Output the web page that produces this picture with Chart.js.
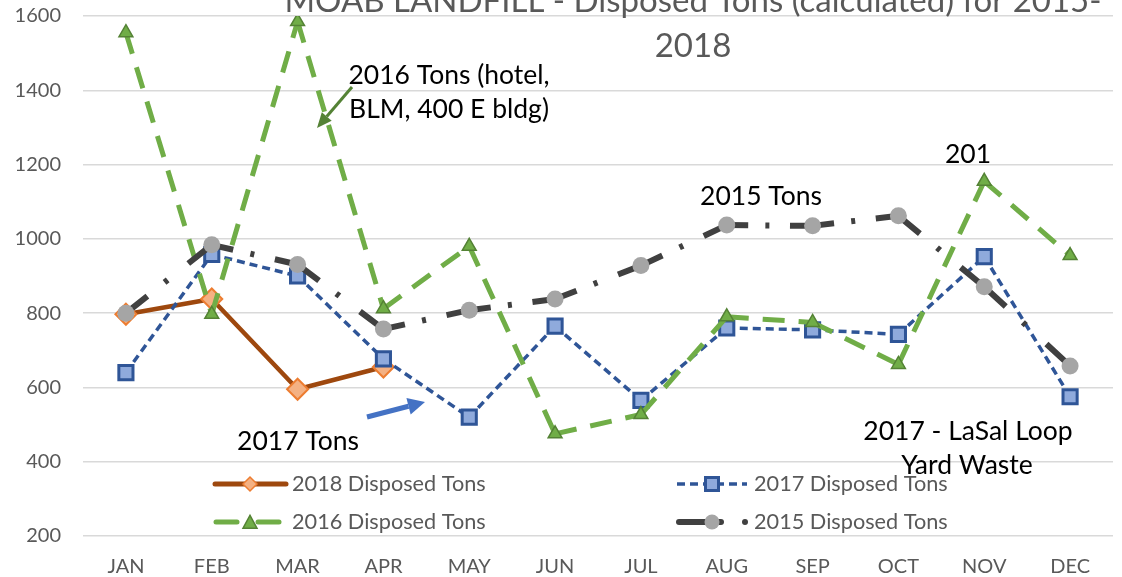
<!DOCTYPE html>
<html><head><meta charset="utf-8">
<script src="https://cdn.jsdelivr.net/npm/chart.js@4/dist/chart.umd.min.js"></script>
<style>html,body{margin:0;padding:0;background:#fff;overflow:hidden}canvas{display:block}</style>
</head><body>
<canvas id="c" width="1122" height="577"></canvas>
<script>
// ---- data ----
const months = ['JAN','FEB','MAR','APR','MAY','JUN','JUL','AUG','SEP','OCT','NOV','DEC'];
const tons2018 = [797, 838, 595, 655, null, null, null, null, null, null, null, null];
const tons2017 = [640, 958, 900, 677, 520, 765, 565, 760, 755, 743, 952, 575];
const tons2016 = [1555, 797, 1585, 812, 980, 475, 527, 790, 775, 662, 1155, 955];
const tons2015 = [800, 984, 931, 757, 808, 838, 928, 1037, 1035, 1062, 871, 658];
const yMin = 200, yMax = 1600, yStep = 200;
const seriesNames = ['2018 Disposed Tons','2017 Disposed Tons','2016 Disposed Tons','2015 Disposed Tons'];
const titleLines = ['MOAB LANDFILL - Disposed Tons (calculated) for 2015-', '2018'];
const noteTexts = [
  {text:'2016 Tons (hotel,', x:449, y:75},
  {text:'BLM, 400 E bldg)', x:449, y:109},
  {text:'2015 Tons', x:761, y:196},
  {text:'201', x:968, y:154},
  {text:'2017 Tons', x:298, y:441},
  {text:'2017 - LaSal Loop', x:968, y:431},
  {text:'Yard Waste', x:967, y:465}
];
const noteArrows = [
  {x0:352, y0:87, x1:317, y1:128, color:'#548235', w:3, head:15, hw:13},
  {x0:367, y0:417, x1:425, y1:402, color:'#4472C4', w:5, head:17, hw:17}
];

const FONT = 'Lato, "Open Sans", sans-serif';
const C18 = {line:'#9E480E', fill:'#F4B183', border:'#ED7D31'};
const C17 = {line:'#2F5597', fill:'#8FAADC', border:'#2F5597'};
const C16 = {line:'#70AD47', fill:'#70AD47', border:'#548235'};
const C15 = {line:'#404040', fill:'#A5A5A5', border:'#A5A5A5'};

function segLen(c){ return Math.hypot(c.p1.x - c.p0.x, c.p1.y - c.p0.y); }

function marker(ctx, type, x, y, r, fill, stroke, lw){
  ctx.save();
  ctx.setLineDash([]);
  ctx.beginPath();
  if (type === 'diamond'){
    ctx.moveTo(x - r, y); ctx.lineTo(x, y - r); ctx.lineTo(x + r, y); ctx.lineTo(x, y + r); ctx.closePath();
  } else if (type === 'square'){
    ctx.rect(x - r, y - r, 2*r, 2*r);
  } else if (type === 'triangle'){
    ctx.moveTo(x, y - r*1.1); ctx.lineTo(x + r, y + r*0.75); ctx.lineTo(x - r, y + r*0.75); ctx.closePath();
  } else {
    ctx.arc(x, y, r, 0, Math.PI*2);
  }
  ctx.fillStyle = fill; ctx.fill();
  if (lw){ ctx.lineWidth = lw; ctx.strokeStyle = stroke; ctx.stroke(); }
  ctx.restore();
}

function seg(ctx, x0, x1, y, color, w, cap, dash){
  ctx.save();
  ctx.beginPath();
  ctx.setLineDash(dash || []);
  ctx.lineCap = cap || 'round';
  ctx.strokeStyle = color; ctx.lineWidth = w;
  ctx.moveTo(x0, y); ctx.lineTo(x1, y); ctx.stroke();
  ctx.restore();
}

const overlay = {
  id:'overlay',
  afterDraw(chart){
    const ctx = chart.ctx;
    ctx.save();
    // title
    ctx.fillStyle = '#595959';
    ctx.font = '33px ' + FONT;
    ctx.textAlign = 'center';
    ctx.textBaseline = 'alphabetic';
    ctx.fillText(titleLines[0], 693, 12);
    ctx.fillText(titleLines[1], 693, 57);
    // notes
    ctx.fillStyle = '#000';
    ctx.font = '26.5px ' + FONT;
    ctx.textBaseline = 'middle';
    noteTexts.forEach(n => ctx.fillText(n.text, n.x, n.y));
    noteArrows.forEach(a => {
      const ang = Math.atan2(a.y1 - a.y0, a.x1 - a.x0);
      const bx = a.x1 - Math.cos(ang)*a.head, by = a.y1 - Math.sin(ang)*a.head;
      ctx.beginPath();
      ctx.strokeStyle = a.color; ctx.lineWidth = a.w; ctx.lineCap = 'butt';
      ctx.moveTo(a.x0, a.y0); ctx.lineTo(bx, by); ctx.stroke();
      ctx.beginPath();
      ctx.fillStyle = a.color;
      ctx.moveTo(a.x1, a.y1);
      ctx.lineTo(bx + Math.sin(ang)*a.hw/2, by - Math.cos(ang)*a.hw/2);
      ctx.lineTo(bx - Math.sin(ang)*a.hw/2, by + Math.cos(ang)*a.hw/2);
      ctx.closePath(); ctx.fill();
    });
    // legend
    const r1 = 484, r2 = 522, c1 = 215, c2 = 677;
    seg(ctx, c1, c1 + 71, r1, C18.line, 5, 'round');
    marker(ctx, 'diamond', c1 + 35, r1, 7, C18.fill, C18.border, 1.5);
    seg(ctx, c2, c2 + 70, r1, C17.line, 3.5, 'butt', [8, 5]);
    marker(ctx, 'square', c2 + 35, r1, 6.5, C17.fill, C17.border, 3);
    seg(ctx, c1 + 1, c1 + 22, r2, C16.line, 5, 'round');
    seg(ctx, c1 + 43, c1 + 64, r2, C16.line, 5, 'round');
    marker(ctx, 'triangle', c1 + 35, r2 + 1, 7, C16.fill, C16.border, 1.5);
    seg(ctx, c2 + 2, c2 + 44, r2, C15.line, 6, 'round');
    marker(ctx, 'circle', c2 + 35, r2, 7.5, C15.fill, null, 0);
    marker(ctx, 'circle', c2 + 68, r2, 3, C15.line, null, 0);
    ctx.fillStyle = '#595959';
    ctx.font = '21.7px ' + FONT;
    ctx.textAlign = 'left';
    ctx.textBaseline = 'middle';
    ctx.fillText(seriesNames[0], c1 + 77, r1);
    ctx.fillText(seriesNames[1], c2 + 77, r1);
    ctx.fillText(seriesNames[2], c1 + 77, r2);
    ctx.fillText(seriesNames[3], c2 + 77, r2);
    ctx.restore();
  }
};

function build(){
  new Chart(document.getElementById('c'), {
    type:'line',
    data:{
      labels: months,
      datasets:[
        {label:seriesNames[0], data:tons2018, order:3, borderColor:C18.line, borderWidth:4.5,
          pointStyle:'rectRot', pointRadius:10.5, pointBackgroundColor:C18.fill, pointBorderColor:C18.border, pointBorderWidth:2},
        {label:seriesNames[1], data:tons2017, order:2, borderColor:C17.line, borderWidth:3.5, borderDash:[8,5],
          segment:{borderDashOffset:c => c.p0DataIndex*1e-4},
          pointStyle:'rect', pointRadius:10, pointBackgroundColor:C17.fill, pointBorderColor:C17.border, pointBorderWidth:3},
        {label:seriesNames[2], data:tons2016, order:1, borderColor:C16.line, borderWidth:5, borderDash:[22,14],
          segment:{borderDashOffset:c => c.p0DataIndex*1e-4},
          pointStyle:'triangle', pointRadius:8, pointBackgroundColor:C16.fill, pointBorderColor:C16.border, pointBorderWidth:1.5},
        {label:seriesNames[3], data:tons2015, order:0, borderColor:C15.line, borderWidth:6,
          segment:{borderDash:c => { const L = segLen(c); return [0.25*L, 0.2*L, 4, 0.24*L, L]; }},
          pointStyle:'circle', pointRadius:8.5, pointBackgroundColor:C15.fill, pointBorderColor:C15.fill, pointBorderWidth:0}
      ]
    },
    options:{
      responsive:false, animation:false, events:[],
      layout:{autoPadding:false, padding:{top:16, right:9, left:0, bottom:0}},
      elements:{line:{tension:0, borderJoinStyle:'round', borderCapStyle:'butt'}},
      plugins:{legend:{display:false}, tooltip:{enabled:false}, title:{display:false}},
      scales:{
        x:{
          offset:true,
          grid:{display:false, drawTicks:false},
          border:{display:false},
          ticks:{color:'#595959', font:{family:FONT, size:20}, padding:19, maxRotation:0, autoSkip:false},
          afterFit(s){ s.height = 41; s.paddingLeft = 0; s.paddingRight = 0; }
        },
        y:{
          min:yMin, max:yMax,
          ticks:{stepSize:yStep, color:'#595959', font:{family:FONT, size:20}, padding:22, callback:v => String(v)},
          grid:{color:'#D9D9D9', lineWidth:1.5, drawTicks:false},
          border:{display:false},
          afterFit(s){ s.width = 83; s.paddingTop = 0; s.paddingBottom = 0; }
        }
      }
    },
    plugins:[overlay]
  });
}
if (document.fonts && document.fonts.load) {
  Promise.all([document.fonts.load('20px Lato'), document.fonts.load('32px Lato')]).then(build, build);
} else build();
</script>
</body></html>
